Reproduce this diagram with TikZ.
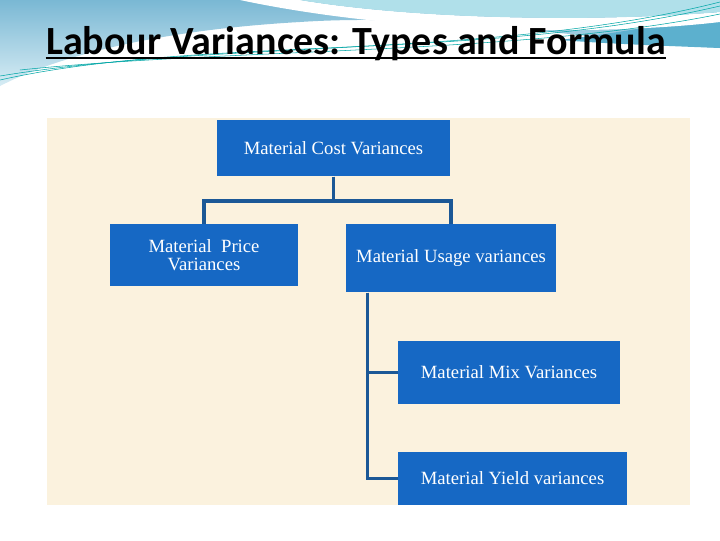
\documentclass[tikz,border=0pt]{standalone}
\usepackage{fontspec}
\setmainfont{Liberation Serif}
\newfontfamily\titlefont{Carlito}
\definecolor{boxblue}{RGB}{22,104,196}
\definecolor{linkblue}{RGB}{27,88,150}
\definecolor{paper}{RGB}{251,242,222}
\definecolor{waveblue}{RGB}{122,184,212}
\definecolor{wavepale}{RGB}{214,236,244}
\definecolor{wavecyan}{RGB}{176,224,234}
\definecolor{wavedeep}{RGB}{92,176,206}
\tikzset{every picture/.style={line width=0.75pt}}
\tikzset{
  varbox/.style={fill=boxblue, text=white, inner sep=0pt, align=center, font=\fontsize{14}{13.5}\selectfont},
  link/.style={draw=linkblue, line width=2.8pt},
  thread/.style={draw=teal!70!cyan, line width=0.4pt}
}
\begin{document}
\begin{tikzpicture}[x=0.75pt,y=0.75pt,yscale=-1,xscale=1]
\useasboundingbox (0,0) rectangle (720,540);
\fill[white] (0,0) rectangle (720,540);

%Shape: Wave [id:top]
\shade[top color=waveblue, bottom color=wavepale] (0,0) -- (720,0) -- (720,48) .. controls (600,42) and (450,12) .. (300,22) .. controls (160,30) and (60,55) .. (0,86) -- cycle;
%Shape: Wave [id:deep]
\fill[wavedeep] (560,40) .. controls (640,30) and (690,20) .. (720,10) -- (720,48) .. controls (670,46) and (610,44) .. (560,40) -- cycle;
%Shape: Wave [id:swoosh]
\fill[white] (240,0) .. controls (400,34) and (600,36) .. (720,22) -- (720,12) .. controls (600,22) and (420,20) .. (300,0) -- cycle;
%Shape: Wave [id:cyan]
\fill[wavecyan] (300,0) .. controls (420,20) and (600,22) .. (720,12) -- (720,0) -- cycle;
%Curve Lines [id:threads]
\draw[thread] (0,80) .. controls (200,35) and (480,62) .. (720,6);
\draw[thread] (0,76) .. controls (220,40) and (500,58) .. (720,2);
\draw[thread] (20,70) .. controls (230,48) and (520,55) .. (720,14);

% Text Node
\node[inner sep=0pt, anchor=base] (title) at (356,54) {\titlefont\bfseries\fontsize{30}{32}\selectfont Labour Variances: Types and Formula};
%Straight Lines [id:underline]
\draw[line width=2.2pt] ([yshift=3pt]title.base west) -- ([yshift=3pt]title.base east);

%Shape: Rectangle [id:paper]
\fill[paper] (47,118) rectangle (690,505);

% Text Node
\node[varbox, minimum width=174.75pt, minimum height=42pt] (cost) at (333.5,148) {Material Cost Variances};
% Text Node
\node[varbox, minimum width=141pt, minimum height=46.5pt] (price) at (204,255) {Material\ \ Price\\Variances};
% Text Node
\node[varbox, minimum width=157.5pt, minimum height=51pt] (usage) at (451,258) {Material Usage variances};
% Text Node
\node[varbox, minimum width=166.5pt, minimum height=47.25pt] (mix) at (509,372.5) {Material Mix Variances};
% Text Node
\node[varbox, minimum width=171.75pt, minimum height=39.75pt] (yield) at (512.5,478.5) {Material Yield variances};

%Straight Lines
\draw[link] (cost.south) -- ++(0,24.5) -| (price.north);
\draw[link] (cost.south) -- ++(0,24.5) -| (usage.north);
\draw[link] (usage.south west) ++(22,0) |- (mix.west);
\draw[link] (usage.south west) ++(22,0) |- (yield.west);

\end{tikzpicture}
\end{document}
